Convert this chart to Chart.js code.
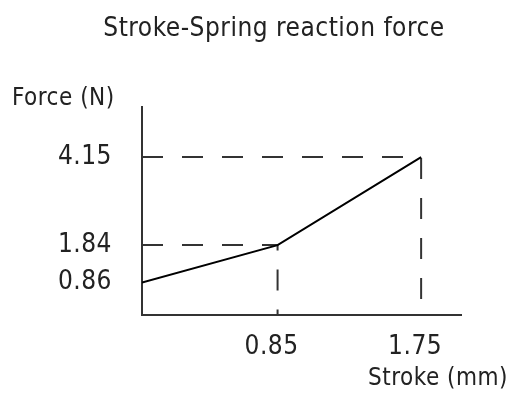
<!DOCTYPE html>
<html lang="en">
  <head>
    <meta charset="UTF-8" />
    <title>Stroke-Spring reaction force</title>
    <style>
      html, body { margin: 0; padding: 0; background: #fff; }
      #wrap { width: 508px; height: 405px; position: relative; }
    </style>
  </head>
  <body>
    <div id="wrap"><canvas id="chart"></canvas></div>
    <script src="https://cdn.jsdelivr.net/npm/chart.js@4.4.0/dist/chart.umd.min.js"></script>
    <script>
      const strokeMm = [0, 0.85, 1.75];
      const forceN = [0.86, 1.84, 4.15];
      const strokeTicks = [0.85, 1.75];
      const forceTicks = [0.86, 1.84, 4.15];

      const FONT = "'DejaVu Sans Condensed', 'Liberation Sans Narrow', sans-serif";
      const INK = "#222";
      const SPACING = "0.5px";

      // dashed guides from the y axis to each knee point and down to the x axis
      const guides = [];
      for (let i = 1; i < strokeMm.length; i++) {
        guides.push({
          data: [
            { x: 0, y: forceN[i] },
            { x: strokeMm[i], y: forceN[i] },
            { x: strokeMm[i], y: 0 },
          ],
          borderColor: "#333",
          borderWidth: 2,
          borderDash: [21, 19],
          pointRadius: 0,
          tension: 0,
        });
      }

      const spacing = {
        id: "spacing",
        beforeUpdate(chart) { chart.ctx.letterSpacing = SPACING; },
        beforeLayout(chart) { chart.ctx.letterSpacing = SPACING; },
        beforeDraw(chart) { chart.ctx.letterSpacing = SPACING; },
      };

      const forceLabel = {
        id: "forceLabel",
        afterDraw(chart) {
          const ctx = chart.ctx;
          ctx.save();
          ctx.font = "24px " + FONT;
          ctx.fillStyle = INK;
          ctx.textAlign = "left";
          ctx.textBaseline = "middle";
          ctx.fillText("Force (N)", 12, 99);
          ctx.restore();
        },
      };

      const config = {
        type: "line",
        data: {
          datasets: [
            {
              data: strokeMm.map((x, i) => ({ x: x, y: forceN[i] })),
              borderColor: "#000",
              borderWidth: 2,
              pointRadius: 0,
              tension: 0,
            },
            ...guides,
          ],
        },
        options: {
          responsive: true,
          maintainAspectRatio: false,
          animation: false,
          layout: { padding: { left: 40, right: 0, top: 0, bottom: 0 } },
          plugins: {
            legend: { display: false },
            tooltip: { enabled: false },
            title: {
              display: true,
              text: "Stroke-Spring reaction force",
              color: INK,
              font: { family: FONT, size: 26, weight: "normal" },
              padding: { top: 14, bottom: 62 },
            },
            subtitle: {
              display: true,
              text: "Stroke (mm)",
              position: "bottom",
              align: "end",
              color: INK,
              font: { family: FONT, size: 24, weight: "normal" },
              padding: { top: 0, bottom: 12 },
            },
          },
          scales: {
            x: {
              type: "linear",
              min: 0,
              max: 2.0,
              grid: { display: false, drawTicks: false },
              border: { display: true, color: "#333", width: 2 },
              afterBuildTicks: (s) => { s.ticks = strokeTicks.map((v) => ({ value: v })); },
              afterFit: (s) => { s.height = 49; },
              ticks: {
                color: INK,
                padding: 16,
                labelOffset: -6,
                font: { family: FONT, size: 26 },
                callback: (v) => v.toFixed(2),
              },
            },
            y: {
              type: "linear",
              min: 0,
              max: 5.46,
              grid: { display: false, drawTicks: false },
              border: { display: true, color: "#333", width: 2 },
              afterBuildTicks: (s) => { s.ticks = forceTicks.map((v) => ({ value: v })); },
              afterFit: (s) => { s.width = 102; },
              ticks: {
                color: INK,
                padding: 30,
                font: { family: FONT, size: 26 },
                callback: (v) => v.toFixed(2),
              },
            },
            y2: {
              type: "linear",
              position: "right",
              display: true,
              grid: { display: false, drawTicks: false },
              border: { display: false },
              ticks: { display: false },
              afterFit: (s) => { s.width = 47; },
            },
          },
        },
        plugins: [spacing, forceLabel],
      };

      new Chart(document.getElementById("chart"), config);
    </script>
  </body>
</html>
